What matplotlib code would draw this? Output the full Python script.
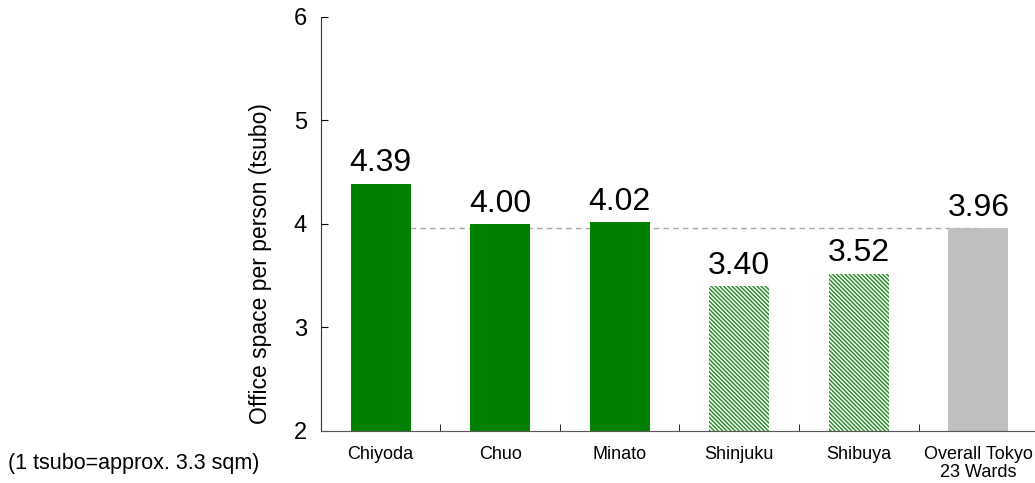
import matplotlib
matplotlib.use("Agg")
import matplotlib.pyplot as plt

plt.rcParams["font.family"] = ["Liberation Sans", "DejaVu Sans"]
plt.rcParams["hatch.linewidth"] = 1.1

wards = ["Chiyoda", "Chuo", "Minato", "Shinjuku", "Shibuya", "Overall Tokyo\n23 Wards"]
space = [4.39, 4.00, 4.02, 3.40, 3.52, 3.96]
labels = ["4.39", "4.00", "4.02", "3.40", "3.52", "3.96"]
average = 3.96

green = "#008000"
grey = "#c0c0c0"

fig = plt.figure(figsize=(10.35, 4.83), dpi=100)
ax = fig.add_axes([0.310, 0.108, 0.693, 0.857])

x = list(range(len(wards)))

ax.plot([0, 5], [average, average], color="#a6a6a6", linestyle=(0, (4, 3)),
        linewidth=1, zorder=1)

for i, v in enumerate(space):
    if i < 3:
        ax.bar(i, v - 2, bottom=2, width=0.5, color=green, zorder=2)
    elif i < 5:
        ax.bar(i, v - 2, bottom=2, width=0.5, color="white", edgecolor="#2f8f2f",
               hatch="\\\\\\\\\\\\\\\\", linewidth=0, zorder=2)
    else:
        ax.bar(i, v - 2, bottom=2, width=0.5, color=grey, zorder=2)
    ax.text(i, v + 0.05, labels[i], ha="center", va="bottom", fontsize=23)

ax.set_ylim(2, 6)
ax.set_xlim(-0.5, 5.5)
ax.set_yticks([2, 3, 4, 5, 6])
ax.tick_params(axis="y", direction="in", labelsize=17, length=5, pad=10)
ax.set_xticks(x)
ax.set_xticklabels(wards, fontsize=13, linespacing=1.1)
ax.tick_params(axis="x", length=0, pad=11)
ax.set_xticks([i + 0.5 for i in range(5)], minor=True)
ax.tick_params(axis="x", which="minor", direction="in", length=5)

ax.spines["top"].set_visible(False)
ax.spines["right"].set_visible(False)
ax.spines["left"].set_color("#333333")
ax.spines["bottom"].set_color("#555555")

ax.set_ylabel("Office space per person (tsubo)", fontsize=16.5)
ax.yaxis.set_label_coords(-0.068, 0.405)

fig.text(0.008, 0.03, "(1 tsubo=approx. 3.3 sqm)", fontsize=15.5)

fig.savefig("out.png", dpi=100)
